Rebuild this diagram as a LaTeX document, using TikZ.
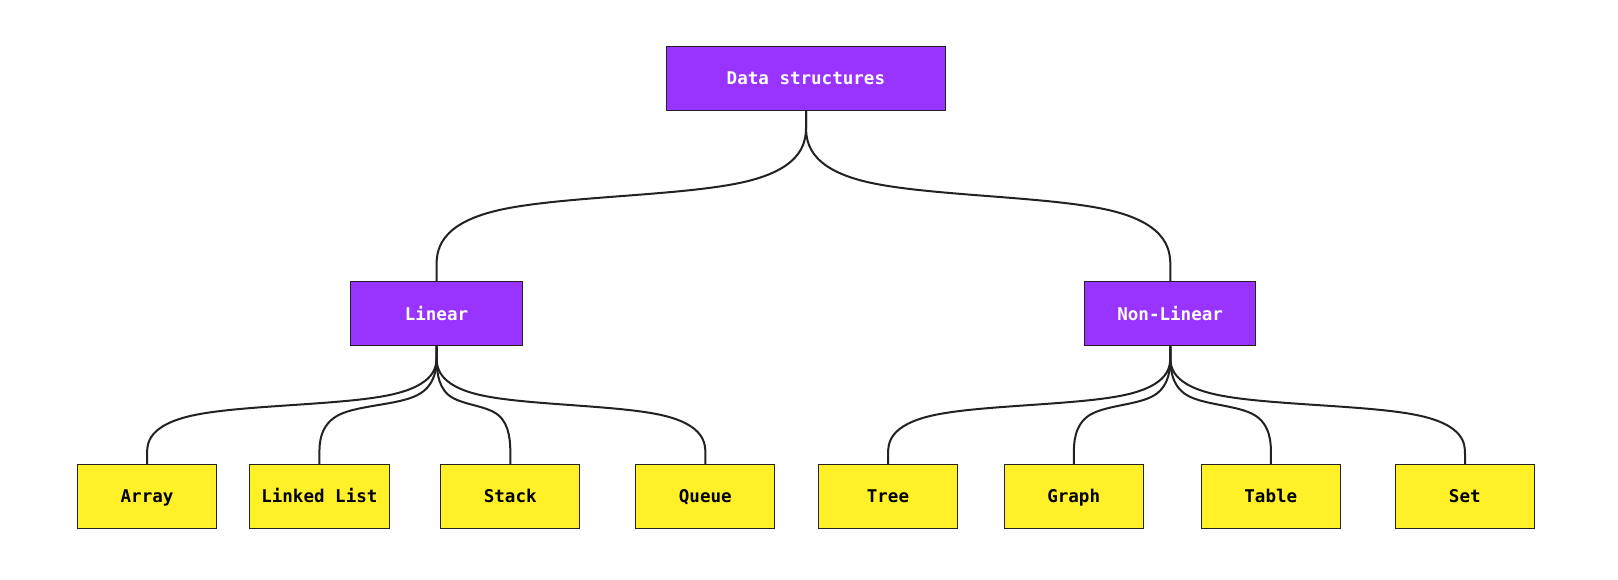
\documentclass[tikz,border=0pt]{standalone}
\usepackage{fontspec}
\newfontfamily\monob{DejaVu Sans Mono}
\usetikzlibrary{calc}
\definecolor{dspurple}{HTML}{9933FF}
\definecolor{dsyellow}{HTML}{FFF028}
\definecolor{dsline}{HTML}{222222}
\tikzset{
  boxbase/.style={rectangle, draw=dsline, line width=1pt, minimum height=62pt, inner sep=0pt,
    text height=12.4pt, text depth=0pt,
    font=\monob\bfseries\fontsize{17}{18}\selectfont},
  topbox/.style={boxbase, fill=dspurple, text=white},
  leafbox/.style={boxbase, fill=dsyellow, text=black, minimum width=135pt},
  link/.style={draw=dsline, line width=2pt},
  basis/.style={to path={
    let \p0=(\tikztostart), \p3=(\tikztotarget), \p1=($(\tikztostart)!0.5!(\tikztotarget)$) in
    -- ({\x0},{(5*\y0+\y1)/6})
    .. controls ({\x0},{(2*\y0+\y1)/3}) and ({\x0},{(\y0+2*\y1)/3}) .. ({(5*\x0+\x3)/6},{(\y0+5*\y1)/6})
    .. controls ({(2*\x0+\x3)/3},{\y1}) and ({(\x0+2*\x3)/3},{\y1}) .. ({(\x0+5*\x3)/6},{(5*\y1+\y3)/6})
    .. controls ({\x3},{(2*\y1+\y3)/3}) and ({\x3},{(\y1+2*\y3)/3}) .. ({\x3},{(\y1+5*\y3)/6})
    -- (\tikztotarget)}}
}
\begin{document}
\begin{tikzpicture}[x=1pt,y=-1pt,scale=1.0319,transform shape]
\fill[white] (0,0) rectangle (1568,562.07);
\node[topbox, minimum width=270pt] (ds) at (781,76) {Data structures};
\node[topbox, minimum width=166pt] (lin) at (423,304) {Linear};
\node[topbox, minimum width=166pt] (nonlin) at (1134,304) {Non-Linear};
\node[leafbox] (array) at (142.5,481) {Array};
\node[leafbox] (llist) at (309.5,481) {Linked List};
\node[leafbox] (stack) at (494.5,481) {Stack};
\node[leafbox] (queue) at (683.5,481) {Queue};
\node[leafbox] (tree) at (860.5,481) {Tree};
\node[leafbox] (graph) at (1040.5,481) {Graph};
\node[leafbox] (table) at (1231.5,481) {Table};
\node[leafbox] (set) at (1419.5,481) {Set};
\draw[link] (ds.south) to[basis] (lin.north);
\draw[link] (ds.south) to[basis] (nonlin.north);
\foreach \c in {array,llist,stack,queue}
  \draw[link] (lin.south) to[basis] (\c.north);
\foreach \c in {tree,graph,table,set}
  \draw[link] (nonlin.south) to[basis] (\c.north);
\pgfresetboundingbox
\path[use as bounding box] (0,0) rectangle (1568,562.07);
\end{tikzpicture}
\end{document}
